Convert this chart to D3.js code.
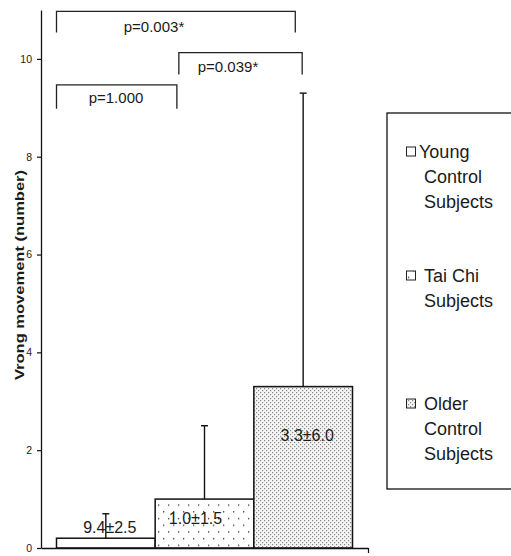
<!DOCTYPE html>
<html>
<head>
<meta charset="utf-8">
<script src="https://cdn.jsdelivr.net/npm/d3@7"></script>
<style>
  html, body { margin: 0; padding: 0; background: #fff; }
  svg { display: block; }
  text { font-family: "Liberation Sans", Arial, sans-serif; fill: #1a1a1a; }
</style>
</head>
<body>
<svg id="chart" width="511" height="556"></svg>
<script>
// ---- data ----
const categories = ["Young Control Subjects", "Tai Chi Subjects", "Older Control Subjects"];
const legendLines = [["Young", "Control", "Subjects"], ["Tai Chi", "Subjects"], ["Older", "Control", "Subjects"]];
const means = [0.2, 1.0, 3.3];
const errors = [0.5, 1.5, 6.0];
const barLabels = ["9.4\u00b12.5", "1.0\u00b11.5", "3.3\u00b16.0"];
const yTicks = [0, 2, 4, 6, 8, 10];
const compFrom = [0, 1, 0];
const compTo = [1, 2, 2];
const compText = ["p=1.000", "p=0.039*", "p=0.003*"];
const yLabel = "Vrong movement (number)";

// ---- layout ----
const svg = d3.select("#chart");
const axisX = 41, axisYbottom = 548, axisYtop = 10, axisXend = 368;
const y = d3.scaleLinear().domain([0, 11]).range([axisYbottom, axisYtop]);
const x = d3.scaleBand().domain(categories).range([56.5, 352.5]).padding(0);
const bw = x.bandwidth();

// patterns
const defs = svg.append("defs");
const p1 = defs.append("pattern").attr("id", "sparse").attr("patternUnits", "userSpaceOnUse")
  .attr("width", 10).attr("height", 13.4).attr("x", 0).attr("y", 0);
p1.append("rect").attr("width", 10).attr("height", 13.4).attr("fill", "#fff");
p1.append("rect").attr("x", 3).attr("y", 2).attr("width", 1.3).attr("height", 1.3).attr("fill", "#333");
p1.append("rect").attr("x", 8).attr("y", 8.7).attr("width", 1.3).attr("height", 1.3).attr("fill", "#333");

const p2 = defs.append("pattern").attr("id", "dense").attr("patternUnits", "userSpaceOnUse")
  .attr("width", 4).attr("height", 4);
p2.append("rect").attr("width", 4).attr("height", 4).attr("fill", "#f4f4f4");
p2.append("rect").attr("x", 0).attr("y", 0).attr("width", 1.2).attr("height", 1.2).attr("fill", "#8a8a8a");
p2.append("rect").attr("x", 2).attr("y", 2).attr("width", 1.2).attr("height", 1.2).attr("fill", "#8a8a8a");

const fills = ["#fff", "url(#sparse)", "url(#dense)"];

// bars
svg.selectAll("rect.bar").data(categories).enter().append("rect")
  .attr("class", "bar")
  .attr("x", d => x(d))
  .attr("y", (d, i) => y(means[i]))
  .attr("width", bw)
  .attr("height", (d, i) => y(0) - y(means[i]))
  .attr("fill", (d, i) => fills[i])
  .attr("stroke", "#111").attr("stroke-width", 1.5);

// error bars (upper only)
const eb = svg.append("g").attr("stroke", "#111").attr("stroke-width", 1.4);
categories.forEach((c, i) => {
  const cx = x(c) + bw / 2;
  eb.append("line").attr("x1", cx).attr("x2", cx).attr("y1", y(means[i])).attr("y2", y(means[i] + errors[i]));
  eb.append("line").attr("x1", cx - 3.5).attr("x2", cx + 3.5).attr("y1", y(means[i] + errors[i])).attr("y2", y(means[i] + errors[i]));
});

// bar labels
const labelPos = [[4, 0.31], [-9, 0.49], [4, 2.19]];
categories.forEach((c, i) => {
  svg.append("text")
    .attr("x", x(c) + bw / 2 + labelPos[i][0])
    .attr("y", y(labelPos[i][1]))
    .attr("text-anchor", "middle")
    .attr("font-size", 16)
    .text(barLabels[i]);
});

// axes
const yAxis = d3.axisLeft(y).tickValues(yTicks).tickSize(4).tickSizeOuter(0).tickFormat(d3.format("d"));
const gy = svg.append("g").attr("transform", `translate(${axisX},0)`).call(yAxis);
gy.select(".domain").attr("stroke", "#111").attr("stroke-width", 1.3);
gy.selectAll(".tick line").attr("stroke", "#111").attr("stroke-width", 1.2);
gy.selectAll(".tick text").attr("font-size", 10.5).attr("fill", "#1a1a1a").attr("x", -9)
  .style("font-family", "'Liberation Sans', Arial, sans-serif");

const xs = d3.scaleLinear().domain([0, 1]).range([axisX, axisXend]);
const xAxis = d3.axisBottom(xs).tickValues([1]).tickSize(5).tickSizeOuter(0).tickFormat("");
const gx = svg.append("g").attr("transform", `translate(0,${axisYbottom})`).call(xAxis);
gx.select(".domain").attr("stroke", "#111").attr("stroke-width", 1.3);
gx.selectAll(".tick line").attr("stroke", "#111").attr("stroke-width", 1.2);

// y label
svg.append("text")
  .attr("transform", `translate(24,${275}) rotate(-90)`)
  .attr("text-anchor", "middle")
  .attr("font-size", 13).attr("font-weight", "bold")
  .attr("textLength", 210).attr("lengthAdjust", "spacingAndGlyphs")
  .text(yLabel);

// significance brackets
const bracketLevels = [9.47, 10.13, 10.97];
const bracketLeg = [24, 22, 21];
const bracketFrac = [[0, 0.22], [0.24, 0.49], [0, 0.42]];
const textX = [116, 228, 154];
const textDy = [18, 19, 21];
const bg = svg.append("g");
compText.forEach((t, i) => {
  const x1 = x(categories[compFrom[i]]) + bracketFrac[i][0] * bw;
  const x2 = x(categories[compTo[i]]) + bracketFrac[i][1] * bw;
  const yy = y(bracketLevels[i]);
  bg.append("path")
    .attr("d", `M${x1},${yy + bracketLeg[i]}V${yy}H${x2}V${yy + bracketLeg[i]}`)
    .attr("fill", "none").attr("stroke", "#222").attr("stroke-width", 1.3);
  bg.append("text").attr("x", textX[i]).attr("y", yy + textDy[i])
    .attr("text-anchor", "middle").attr("font-size", 15).text(t);
});

// legend
const lg = svg.append("g");
lg.append("rect").attr("x", 387).attr("y", 113).attr("width", 140).attr("height", 376)
  .attr("fill", "#fff").attr("stroke", "#111").attr("stroke-width", 1.3);
const entryTop = [158, 282, 410];
const lineGap = 25;
categories.forEach((c, i) => {
  const by = entryTop[i];
  lg.append("rect").attr("x", 406.5).attr("y", by - 11).attr("width", 9).attr("height", 9)
    .attr("fill", fills[i]).attr("stroke", "#222").attr("stroke-width", 1);
  legendLines[i].forEach((ln, j) => {
    lg.append("text").attr("x", (i === 0 && j === 0) ? 419 : 424).attr("y", by + j * lineGap)
      .attr("font-size", 18).text(ln);
  });
});
</script>
</body>
</html>
